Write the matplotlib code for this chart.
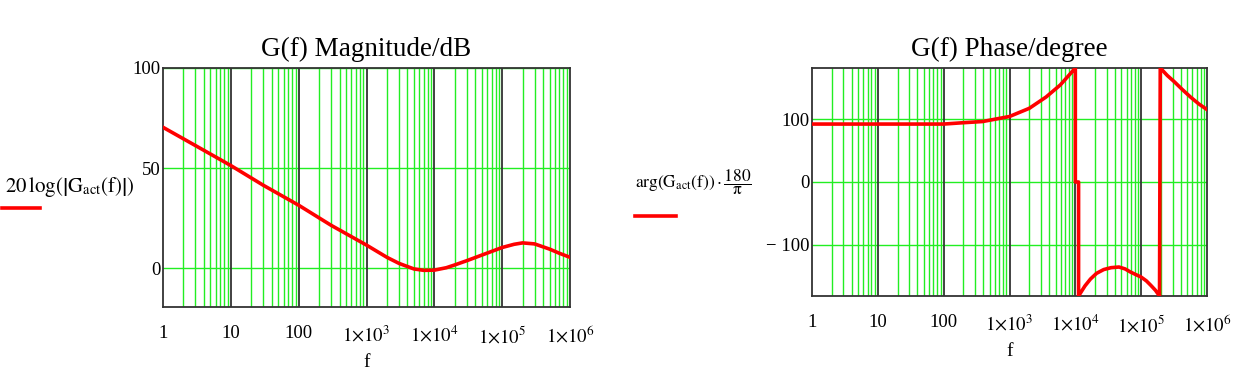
import matplotlib
matplotlib.use("Agg")
import matplotlib.pyplot as plt
from matplotlib.lines import Line2D

plt.rcParams['font.family'] = ['Liberation Serif', 'DejaVu Serif']
plt.rcParams['mathtext.fontset'] = 'stix'

# magnitude
mag_f = [1, 3, 10, 30, 100, 300, 1e3, 2e3, 3e3, 5e3, 7e3, 1e4, 1.5e4, 2e4, 3e4,
         5e4, 1e5, 1.5e5, 2e5, 3e5, 5e5, 7e5, 1e6]
mag_db = [70.4, 61.3, 51.3, 41.5, 31.5, 21.5, 11.6, 5.5, 2.5, -0.3, -1.0, -0.9, 0.3, 1.7, 3.8,
          6.6, 10.4, 12.0, 12.7, 12.2, 9.6, 7.5, 5.5]

# phase (wraps at +/-180)
ph_f = [1, 100, 190, 390, 1e3, 2e3, 3.6e3, 5.9e3, 8.4e3, 1e4,
        1e4, 1.12e4,
        1.12e4, 1.4e4, 1.7e4, 2.1e4, 2.7e4, 3.5e4, 4.6e4, 5.7e4, 6.9e4, 8.3e4,
        1e5, 1.2e5, 1.4e5, 1.65e5, 1.9e5,
        1.95e5, 2.5e5, 3.2e5, 4.2e5, 5.6e5, 7.5e5, 1e6]
ph_deg = [92, 92, 94, 96, 104, 117, 135, 154, 172, 181,
          0, 0,
          -181, -165, -154, -145, -139, -136, -135, -138, -143, -147,
          -151, -157, -164, -172, -181,
          181, 169, 159, 147, 135, 124, 115]

xticks = [1, 10, 100, 1e3, 1e4, 1e5, 1e6]
xlabels = ['1', '10', '100', r'$1{\times}10^{3}$', r'$1{\times}10^{4}$',
           r'$1{\times}10^{5}$', r'$1{\times}10^{6}$']

green = '#22ee22'
red = '#ff0000'


def setup(ax, yticks, ylabels, ylim, title):
    ax.set_xscale('log')
    ax.set_xlim(1, 1e6)
    ax.set_ylim(*ylim)
    for dec in range(6):
        for m in range(2, 10):
            ax.axvline(m * 10 ** dec, color=green, lw=1.0, zorder=1)
    for dec in range(1, 6):
        ax.axvline(10 ** dec, color='#333333', lw=1.3, zorder=1.5)
    for y in yticks:
        ax.axhline(y, color=green, lw=1.0, zorder=1)
    ax.set_xticks(xticks)
    ax.set_xticklabels(xlabels, fontsize=13.5)
    ax.set_xticks([], minor=True)
    ax.set_yticks(yticks)
    ax.set_yticklabels(ylabels, fontsize=13.5)
    ax.tick_params(axis='x', length=0, pad=13)
    ax.tick_params(axis='y', length=0, pad=2)
    for s in ax.spines.values():
        s.set_color('#333333')
        s.set_linewidth(1.3)
    ax.set_xlabel('f', fontsize=14, labelpad=5)
    ax.set_title(title, fontsize=19.5, pad=9)


fig = plt.figure(figsize=(12.42, 3.79), dpi=100)

ax1 = fig.add_axes([163 / 1242, 1 - 307 / 379, 407 / 1242, 239 / 379])
setup(ax1, [0, 50, 100], ['0', '50', '100'], (-19.3, 100), 'G(f) Magnitude/dB')
ax1.plot(mag_f, mag_db, color=red, lw=2.6, zorder=3)

ax2 = fig.add_axes([812 / 1242, 1 - 296 / 379, 395 / 1242, 228 / 379])
setup(ax2, [-100, 0, 100], ['\u2212 100', '0', '100'], (-181, 181), 'G(f) Phase/degree')
ax2.plot(ph_f, ph_deg, color=red, lw=2.6, zorder=3)

# Mathcad-style trace labels
fig.text(70 / 1242, 1 - 187 / 379,
         r'$20\,\mathrm{log}\left(\left|\mathrm{G}_{\mathrm{act}}(\mathrm{f})\right|\right)$',
         fontsize=15, ha='center', va='center')
fig.add_artist(Line2D([2 / 1242, 40 / 1242], [1 - 208 / 379, 1 - 208 / 379],
                      color=red, lw=2.6, transform=fig.transFigure))
fig.text(693 / 1242, 1 - 182 / 379,
         r'$\mathrm{arg}\left(\mathrm{G}_{\mathrm{act}}(\mathrm{f})\right)\cdot\dfrac{180}{\mathrm{\pi}}$',
         fontsize=12.5, ha='center', va='center')
fig.add_artist(Line2D([635 / 1242, 676 / 1242], [1 - 216 / 379, 1 - 216 / 379],
                      color=red, lw=2.6, transform=fig.transFigure))

fig.savefig('out.png', dpi=100)
